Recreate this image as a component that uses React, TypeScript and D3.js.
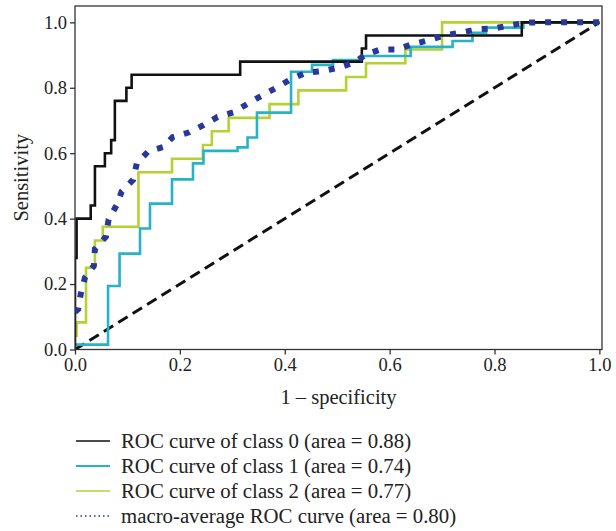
import { useEffect, useRef } from "react";
import * as d3 from "d3";

// ROC step points (step-after: horizontal to next fpr, then up to next tpr)
const fpr0 = [0, 0, 0.003, 0.030, 0.038, 0.057, 0.069, 0.076, 0.098, 0.108, 0.315, 0.547, 0.555, 0.852, 1];
const tpr0 = [0, 0.28, 0.40, 0.44, 0.56, 0.60, 0.64, 0.76, 0.80, 0.84, 0.88, 0.92, 0.96, 1, 1];

const fpr1 = [0, 0.063, 0.085, 0.124, 0.143, 0.185, 0.225, 0.245, 0.310, 0.329, 0.347, 0.412, 0.452, 0.492, 0.547, 0.640, 0.720, 0.758, 0.784, 0.855, 1];
const tpr1 = [0.015, 0.194, 0.293, 0.370, 0.446, 0.520, 0.569, 0.607, 0.618, 0.648, 0.724, 0.849, 0.870, 0.885, 0.897, 0.925, 0.943, 0.968, 0.984, 1, 1];

const fpr2 = [0, 0.003, 0.021, 0.038, 0.053, 0.121, 0.185, 0.244, 0.261, 0.293, 0.371, 0.426, 0.517, 0.555, 0.630, 0.700, 1];
const tpr2 = [0.042, 0.083, 0.25, 0.333, 0.375, 0.542, 0.583, 0.625, 0.667, 0.708, 0.75, 0.792, 0.833, 0.875, 0.917, 1, 1];

const macroFpr = [0, 0.006, 0.011, 0.019, 0.036, 0.038, 0.059, 0.064, 0.080, 0.089, 0.111, 0.118, 0.140, 0.169, 0.186, 0.218, 0.244, 0.272, 0.302, 0.328, 0.354, 0.384, 0.410, 0.441, 0.471, 0.502, 0.532, 0.555, 0.582, 0.614, 0.643, 0.674, 0.706, 0.735, 0.767, 0.798, 0.830, 0.862, 0.880, 1];
const macroTpr = [0.115, 0.123, 0.170, 0.220, 0.256, 0.307, 0.345, 0.397, 0.443, 0.483, 0.519, 0.570, 0.606, 0.619, 0.649, 0.664, 0.685, 0.711, 0.725, 0.750, 0.774, 0.800, 0.825, 0.846, 0.851, 0.861, 0.877, 0.902, 0.917, 0.917, 0.933, 0.945, 0.961, 0.968, 0.979, 0.981, 0.991, 0.999, 1, 1];

const xTicks = [0, 0.2, 0.4, 0.6, 0.8, 1.0];
const yTicks = [0, 0.2, 0.4, 0.6, 0.8, 1.0];

const legendLabels = [
  "ROC curve of class 0 (area = 0.88)",
  "ROC curve of class 1 (area = 0.74)",
  "ROC curve of class 2 (area = 0.77)",
  "macro-average ROC curve (area = 0.80)",
];

const width = 616;
const height = 531;
const margin = { top: 6, right: 14, bottom: 181.5, left: 75 };
const font = "'Liberation Serif', 'Times New Roman', serif";

const BLACK = "#111111";
const CYAN = "#27b2c5";
const GREEN = "#b4d135";
const NAVY = "#28379a";

export default function App() {
  const svgRef = useRef<SVGSVGElement | null>(null);

  useEffect(() => {
    if (!svgRef.current) return;
    const svg = d3.select(svgRef.current);
    svg.selectAll("*").remove();

    const innerW = width - margin.left - margin.right;
    const innerH = height - margin.top - margin.bottom;

    svg.append("rect").attr("width", width).attr("height", height).attr("fill", "#fff");

    const g = svg.append("g").attr("transform", `translate(${margin.left},${margin.top})`);

    const x = d3.scaleLinear().domain([0, 1.005]).range([0, innerW]);
    const y = d3.scaleLinear().domain([0, 1.05]).range([innerH, 0]);

    g.append("clipPath").attr("id", "plotclip")
      .append("rect").attr("x", 0).attr("y", -4).attr("width", innerW).attr("height", innerH + 4);

    const plot = g.append("g").attr("clip-path", "url(#plotclip)");

    // chance diagonal
    plot.append("line")
      .attr("x1", x(0)).attr("y1", y(0))
      .attr("x2", x(1)).attr("y2", y(1))
      .attr("stroke", BLACK)
      .attr("stroke-width", 3)
      .attr("stroke-dasharray", "11,6");

    const step = d3.line<[number, number]>()
      .x(d => x(d[0]))
      .y(d => y(d[1]))
      .curve(d3.curveStepAfter);

    const series = [
      { f: fpr2, t: tpr2, color: GREEN },
      { f: fpr1, t: tpr1, color: CYAN },
      { f: fpr0, t: tpr0, color: BLACK },
    ];
    series.forEach(s => {
      plot.append("path")
        .datum(s.f.map((v, i) => [v, s.t[i]] as [number, number]))
        .attr("fill", "none")
        .attr("stroke", s.color)
        .attr("stroke-width", 2.6)
        .attr("d", step);
    });

    const lin = d3.line<[number, number]>()
      .x(d => x(d[0]))
      .y(d => y(d[1]));

    plot.append("path")
      .datum(macroFpr.map((v, i) => [v, macroTpr[i]] as [number, number]))
      .attr("fill", "none")
      .attr("stroke", NAVY)
      .attr("stroke-width", 6)
      .attr("stroke-dasharray", "6,10")
      .attr("d", lin);

    // frame
    g.append("rect")
      .attr("x", 0).attr("y", 0)
      .attr("width", innerW).attr("height", innerH)
      .attr("fill", "none")
      .attr("stroke", "#333")
      .attr("stroke-width", 1.3);

    // x axis
    const xAxis = g.append("g")
      .attr("transform", `translate(0,${innerH})`)
      .call(d3.axisBottom(x).tickValues(xTicks).tickFormat(d3.format(".1f")).tickSize(5).tickPadding(3));
    xAxis.select(".domain").remove();
    xAxis.selectAll("line").attr("stroke", "#333").attr("stroke-width", 1.3);
    xAxis.selectAll("text").attr("font-family", font).attr("font-size", 18.5).attr("fill", "#222");

    // y axis
    const yAxis = g.append("g")
      .call(d3.axisLeft(y).tickValues(yTicks).tickFormat(d3.format(".1f")).tickSize(5).tickPadding(3));
    yAxis.select(".domain").remove();
    yAxis.selectAll("line").attr("stroke", "#333").attr("stroke-width", 1.3);
    yAxis.selectAll("text").attr("font-family", font).attr("font-size", 18.5).attr("fill", "#222");

    // axis labels
    svg.append("text")
      .attr("x", margin.left + innerW / 2)
      .attr("y", 404)
      .attr("text-anchor", "middle")
      .attr("font-family", font)
      .attr("font-size", 20.5)
      .attr("fill", "#222")
      .text("1 – specificity");

    svg.append("text")
      .attr("transform", `translate(28,${margin.top + innerH / 2}) rotate(-90)`)
      .attr("text-anchor", "middle")
      .attr("font-family", font)
      .attr("font-size", 20.5)
      .attr("fill", "#222")
      .text("Sensitivity");

    // legend
    const legendStyles = [
      { color: BLACK, width: 1.5, dash: null as string | null },
      { color: CYAN, width: 1.8, dash: null },
      { color: GREEN, width: 1.5, dash: null },
      { color: NAVY, width: 1.3, dash: "1.5,3" },
    ];
    const legend = svg.append("g");
    legendLabels.forEach((label, i) => {
      const cy = 441 + i * 25;
      const st = legendStyles[i];
      legend.append("line")
        .attr("x1", 76).attr("x2", 110)
        .attr("y1", cy).attr("y2", cy)
        .attr("stroke", st.color)
        .attr("stroke-width", st.width)
        .attr("stroke-dasharray", st.dash);
      legend.append("text")
        .attr("x", 121)
        .attr("y", cy + 6.5)
        .attr("font-family", font)
        .attr("font-size", 20.8)
        .attr("fill", "#222")
        .text(label);
    });
  }, []);

  return (
    <svg
      ref={svgRef}
      width={width}
      height={height}
      style={{ position: "absolute", left: 0, top: 0 }}
    />
  );
}
